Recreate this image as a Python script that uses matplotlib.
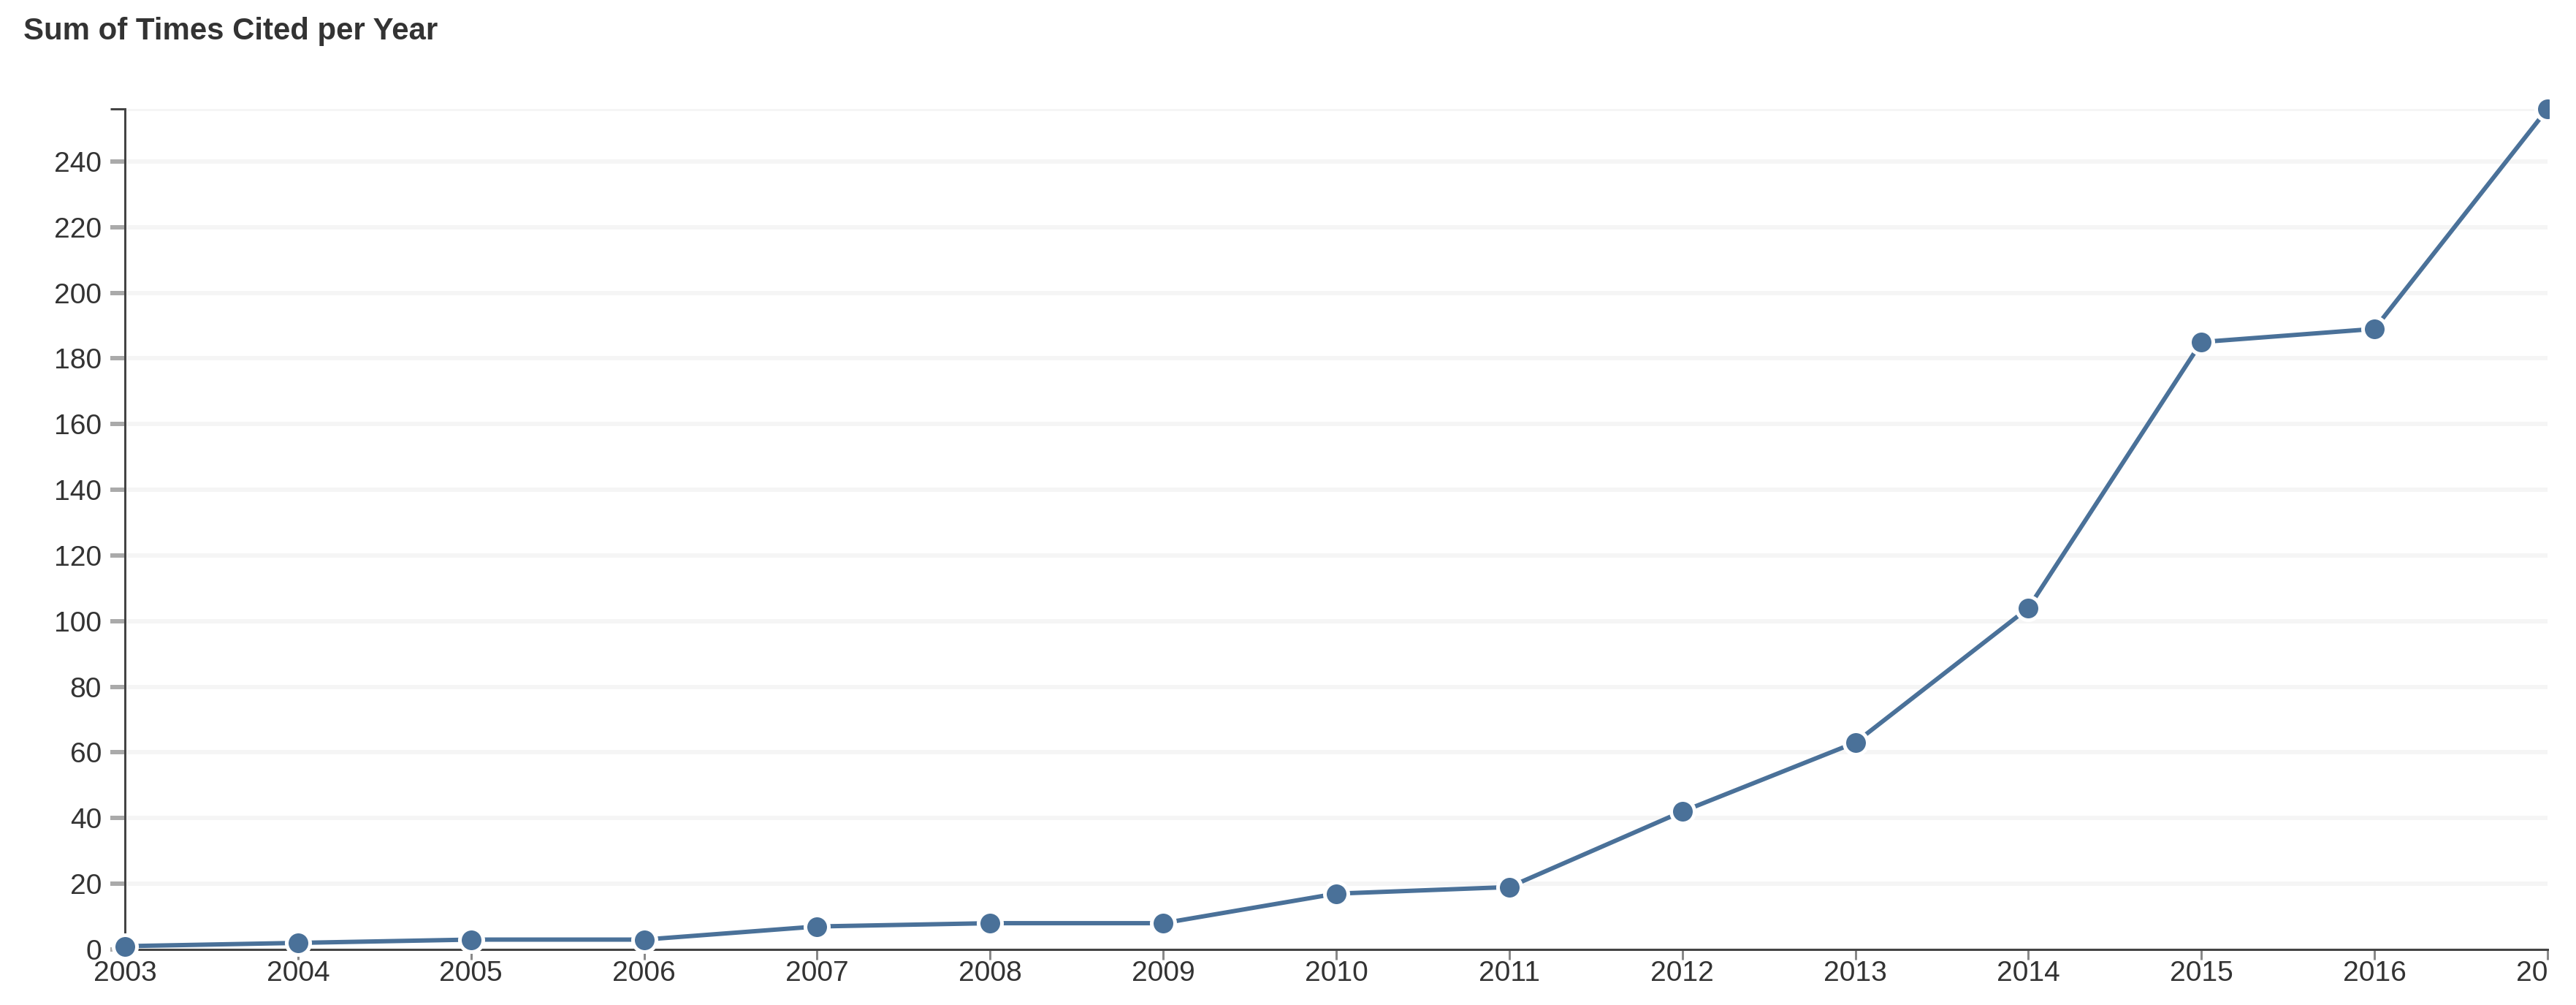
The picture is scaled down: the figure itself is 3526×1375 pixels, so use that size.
import matplotlib
matplotlib.use("Agg")
import matplotlib.pyplot as plt
from matplotlib.patches import Rectangle

years = [2003, 2004, 2005, 2006, 2007, 2008, 2009, 2010, 2011, 2012, 2013, 2014, 2015, 2016, 2017]
citations = [1, 2, 3, 3, 7, 8, 8, 17, 19, 42, 63, 104, 185, 189, 256]
y_ticks = [0, 20, 40, 60, 80, 100, 120, 140, 160, 180, 200, 220, 240]
title = "Sum of Times Cited per Year"

W, H, DPI = 3526, 1375, 100
plt.rcParams['font.family'] = ['Liberation Sans', 'DejaVu Sans']
fig = plt.figure(figsize=(W / DPI, H / DPI), dpi=DPI)
fig.patch.set_facecolor('white')

px = lambda v: v * 72.0 / DPI  # pixels -> points

left, right = 171, 3487
top, bottom = 149, 1299
ax = fig.add_axes([left / W, (H - bottom) / H, (right - left) / W, (bottom - top) / H])

ymax = max(citations)
ax.set_xlim(years[0], years[-1])
ax.set_ylim(0, ymax)

line_color = '#4a7199'
ax.plot(years, citations, color=line_color, lw=px(6), zorder=3, clip_on=False,
        solid_capstyle='butt')
ax.plot(years, citations, linestyle='none', marker='o', ms=px(32), mfc=line_color,
        mec='white', mew=px(5), zorder=4, clip_on=False)

# gridlines
ax.set_yticks(y_ticks)
ax.set_yticks([ymax], minor=True)
ax.yaxis.grid(True, which='both', color='#f5f5f5', lw=px(6))
ax.xaxis.grid(False)
ax.set_axisbelow(True)

ax.set_xticks(years)
ax.set_xticklabels([str(y) for y in years])

for s in ['top', 'right']:
    ax.spines[s].set_visible(False)
for s in ['left', 'bottom']:
    ax.spines[s].set_color('#444444')
    ax.spines[s].set_linewidth(px(3))

ax.tick_params(axis='y', which='major', length=px(20), width=px(6), color='#aaaaaa',
               pad=px(12), labelsize=px(39), labelcolor='#333333')
ax.tick_params(axis='y', which='minor', length=px(20), width=px(3), color='#444444',
               labelleft=False)
ax.tick_params(axis='x', which='major', length=px(14), width=px(3), color='#888888',
               pad=px(1), labelsize=px(39), labelcolor='#333333')

fig.text(32 / W, 1 - 43 / H, title, fontsize=px(42), fontweight='bold',
         color='#333333', ha='left', va='center')

# the original view is cut off at its right edge
fig.add_artist(Rectangle((3490 / W, 0), 1 - 3490 / W, 1, transform=fig.transFigure,
                         facecolor='white', edgecolor='none', zorder=10))

fig.savefig('out.png', dpi=DPI, facecolor='white')
